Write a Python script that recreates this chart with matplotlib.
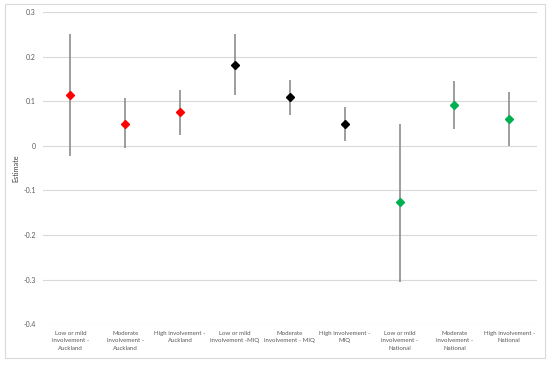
import numpy as np
import matplotlib
matplotlib.use('Agg')
import matplotlib.pyplot as plt
from matplotlib.patches import Rectangle

# data
labels = ['Low or mild\ninvolvement -\nAuckland', 'Moderate\ninvolvement -\nAuckland',
          'High involvement -\nAuckland', 'Low or mild\ninvolvement -MIQ',
          'Moderate\ninvolvement - MIQ', 'High involvement -\nMIQ',
          'Low or mild\ninvolvement -\nNational', 'Moderate\ninvolvement -\nNational',
          'High involvement -\nNational']
estimate = [0.115, 0.050, 0.075, 0.182, 0.110, 0.049, -0.127, 0.092, 0.060]
upper = [0.250, 0.107, 0.125, 0.250, 0.148, 0.088, 0.050, 0.145, 0.120]
lower = [-0.023, -0.005, 0.025, 0.115, 0.070, 0.010, -0.305, 0.038, 0.000]
colors = ['#FF0000'] * 3 + ['#000000'] * 3 + ['#00B050'] * 3
yticks = [0.3, 0.2, 0.1, 0, -0.1, -0.2, -0.3, -0.4]
yticklabels = ['0.3', '0.2', '0.1', '0', '-0.1', '-0.2', '-0.3', '-0.4']

plt.rcParams['font.family'] = ['Lato', 'DejaVu Sans']

fig = plt.figure(figsize=(5.5, 3.65), dpi=100)
ax = fig.add_axes([0.078, 0.112, 0.898, 0.855])

x = np.arange(len(labels))
for i in x:
    ax.vlines(i, lower[i], upper[i], color='#8c8c8c', lw=1.2, zorder=2)
    ax.plot(i, estimate[i], marker='D', ms=4.5, color=colors[i], mec=colors[i], zorder=3)

ax.set_xlim(-0.5, len(labels) - 0.5)
ax.set_ylim(-0.4, 0.3)
ax.set_yticks(yticks)
ax.set_yticklabels(yticklabels)
ax.set_xticks(x)
ax.set_xticklabels(labels, fontsize=4.4, color='#595959', linespacing=1.6)
ax.tick_params(axis='y', labelsize=5, labelcolor='#595959', length=0, pad=5)
ax.tick_params(axis='x', length=0, pad=5)
ax.grid(axis='y', color='#d9d9d9', lw=0.8)
ax.set_axisbelow(True)
for s in ax.spines.values():
    s.set_visible(False)
ax.set_ylabel('Estimate', fontsize=5.2, color='#404040')
ax.yaxis.set_label_coords(-0.047, 0.5)

# outer border
fig.patches.append(Rectangle((0.009, 0.019), 0.982, 0.97, transform=fig.transFigure,
                             fill=False, ec='#d9d9d9', lw=0.8))

plt.savefig('out.png', dpi=100)
